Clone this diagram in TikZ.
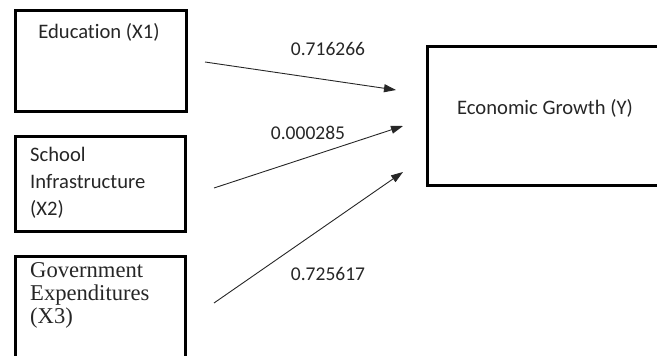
\documentclass[tikz,border=0pt]{standalone}
\usepackage{fontspec}
\setmainfont[Ligatures={NoCommon}]{Carlito}
\newfontfamily\timesf{Liberation Serif}
\usetikzlibrary{arrows.meta}
\begin{document}
\begin{tikzpicture}[x=1pt,y=-1pt,
  boxstyle/.style={draw=black,line width=3pt,inner sep=0pt,outer sep=0pt},
  lbl/.style={text=black!85,inner sep=0pt,font=\fontsize{20.6}{27}\selectfont},
  numlbl/.style={text=black!85,inner sep=0pt,font=\fontsize{19.5}{24}\selectfont},
  conn/.style={draw=black!85,line width=0.9pt,-{Triangle[length=12pt,width=8pt]}}]
\useasboundingbox (0,0) rectangle (657,356);
\clip (0,0) rectangle (657,356);
% boxes
\node[boxstyle,minimum width=171pt,minimum height=101pt] (b1) at (101,61) {};
\node[boxstyle,minimum width=170pt,minimum height=95pt] (b2) at (100.5,184) {};
\node[boxstyle,minimum width=170pt,minimum height=110pt] (b3) at (100.5,311.5) {};
\node[boxstyle,minimum width=240pt,minimum height=139pt] (by) at (547,116) {};
% texts
\node[lbl] (t1) at (99,32) {Education (X1)};
\node[lbl,anchor=west,align=left] (t2) at (30,183) {School\\Infrastructure\\(X2)};
\node[lbl,anchor=west,align=left,font=\timesf\fontsize{22.6}{23}\selectfont] (t3) at (30,295) {Government\\Expenditures\\(X3)};
\node[lbl] (ty) at (545,108) {Economic Growth (Y)};
% connectors
\coordinate (s1) at (205,62);
\coordinate (e1) at (396,90);
\coordinate (s2) at (214,188);
\coordinate (e2) at (403,126);
\coordinate (s3) at (214,303);
\coordinate (e3) at (403,172);
\draw[conn] (s1) -- (e1);
\draw[conn] (s2) -- (e2);
\draw[conn] (s3) -- (e3);
\node[numlbl] (n1) at (328,49) {0.716266};
\node[numlbl] (n2) at (308,133) {0.000285};
\node[numlbl] (n3) at (328,274) {0.725617};
\end{tikzpicture}
\end{document}
